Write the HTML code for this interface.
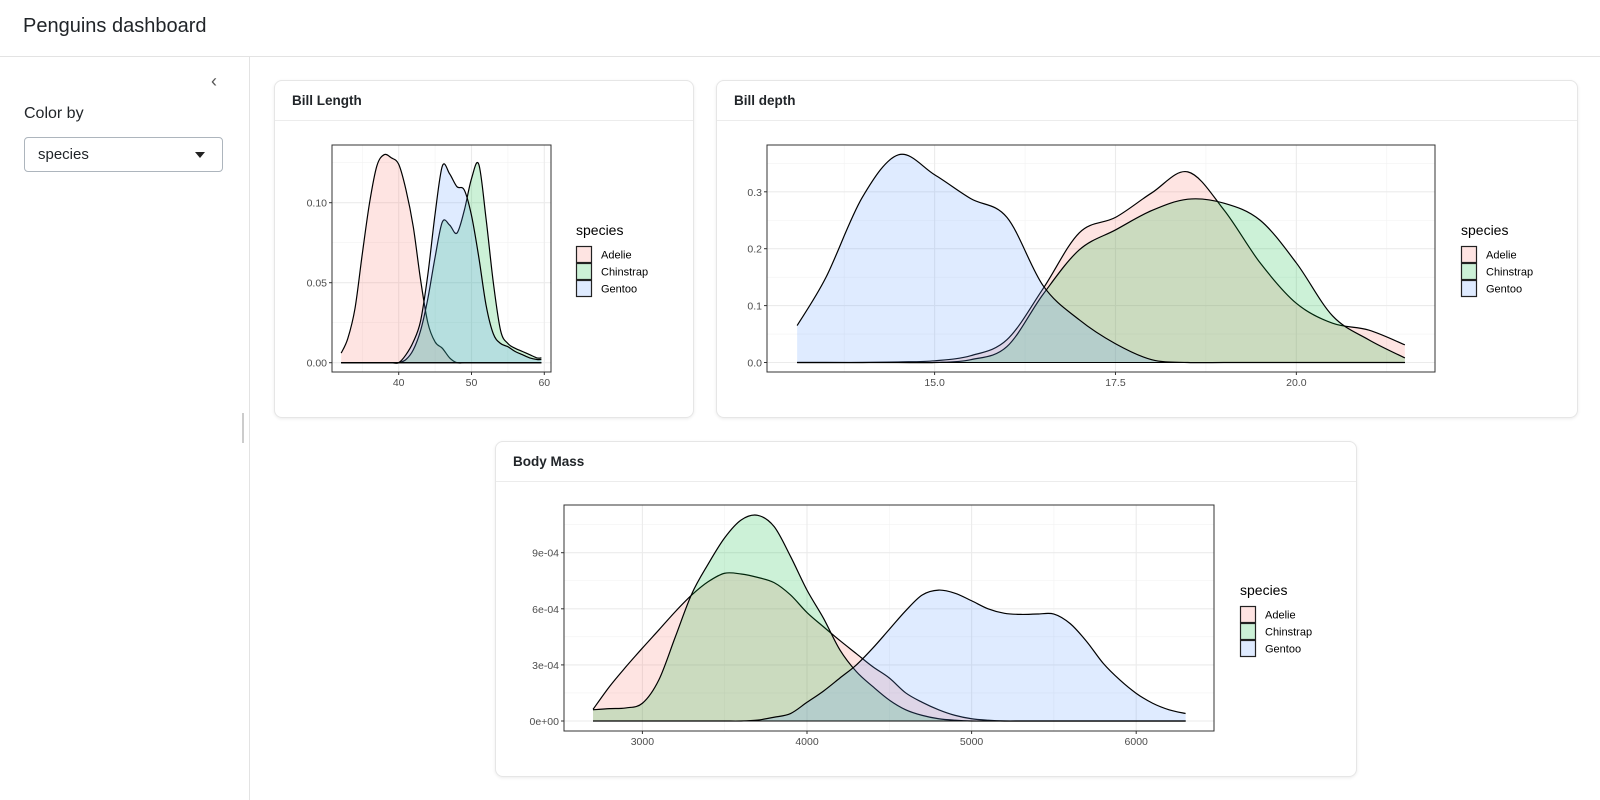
<!DOCTYPE html>
<html><head><meta charset="utf-8"><style>
body{margin:0;width:1600px;height:800px;background:#fff;font-family:"Liberation Sans","DejaVu Sans",sans-serif;color:#212529;position:relative;overflow:hidden}
.hdr{position:absolute;left:0;top:0;width:1600px;height:56px;border-bottom:1px solid #e3e3e3}
.hdr span{position:absolute;left:23px;top:15px;font-size:20px}
.side{position:absolute;left:0;top:57px;width:249px;height:743px;border-right:1px solid #e3e3e3}
.card{position:absolute;background:#fff;border:1px solid #e6e6e6;border-radius:8px;box-shadow:0 1px 3px rgba(0,0,0,.08)}
.card .ch{height:39px;border-bottom:1px solid #ececec;font-weight:bold;font-size:13.5px;padding-left:17px;line-height:39px}
svg{position:absolute;left:0;top:0}
</style></head><body>
<div class="hdr"><span>Penguins dashboard</span></div>
<div class="side">
 <div style="position:absolute;left:211px;top:14px;font-size:18px;color:#555">&#8249;</div>
 <div style="position:absolute;left:24px;top:48px;font-size:16px">Color by</div>
 <div style="position:absolute;left:24px;top:80px;width:199px;height:35px;border:1px solid #adb5bd;border-radius:4px;box-sizing:border-box">
  <span style="position:absolute;left:13px;top:8px;font-size:15px">species</span>
  <span style="position:absolute;left:170px;top:14px;width:0;height:0;border-left:5px solid transparent;border-right:5px solid transparent;border-top:6px solid #222"></span>
 </div>
</div>
<div style="position:absolute;left:242px;top:413px;width:2px;height:30px;background:#ccc"></div>
<div class="card" style="left:274px;top:80px;width:418px;height:336px"><div class="ch">Bill Length</div></div>
<div class="card" style="left:716px;top:80px;width:860px;height:336px"><div class="ch">Bill depth</div></div>
<div class="card" style="left:495px;top:441px;width:860px;height:334px"><div class="ch">Body Mass</div></div>
<svg id="s" width="1600" height="800"></svg>
<script>
const species = ["Adelie","Chinstrap","Gentoo"];
const colors = ["#F8766D","#00BA38","#619CFF"];
// Bill length
const lenX = [32.1,33,34,35,36,37,38,39,40,41,42,43,44,45,46,47,48,49,50,51,52,53,54,55,56,57,58,59,59.6];
const lenAdelie = [.006,.015,.034,.068,.1,.123,.13,.128,.124,.108,.085,.052,.025,.013,.009,.003,0,0,0,0,0,0,0,0,0,0,0,0,0];
const lenChinstrap = [0,0,0,0,0,0,0,0,0,.002,.008,.02,.04,.066,.088,.086,.081,.095,.115,.124,.09,.05,.02,.012,.009,.007,.005,.003,.003];
const lenGentoo = [0,0,0,0,0,0,0,0,0,.005,.013,.026,.055,.093,.123,.118,.11,.108,.092,.066,.036,.018,.012,.01,.007,.005,.003,.002,.002];
const lenXTicks = [40,50,60], lenYTicks = [0,0.05,0.10], lenYLabels = ["0.00","0.05","0.10"];
// Bill depth
const depX = [13.1,13.5,14,14.5,15,15.5,16,16.5,17,17.5,18,18.5,19,19.5,20,20.5,21,21.5];
const depAdelie = [0,0,0,.001,.003,.012,.04,.13,.228,.255,.298,.335,.268,.175,.104,.069,.057,.031];
const depChinstrap = [0,0,0,0,0,.005,.028,.12,.198,.233,.267,.287,.28,.25,.175,.082,.04,.008];
const depGentoo = [.065,.15,.29,.365,.33,.288,.255,.135,.075,.033,.005,0,0,0,0,0,0,0];
const depXTicks = [15,17.5,20], depXLabels = ["15.0","17.5","20.0"], depYTicks = [0,0.1,0.2,0.3], depYLabels = ["0.0","0.1","0.2","0.3"];
// Body mass (densities in units of 1e-4)
const massX = [2700,2800,2900,3000,3100,3200,3300,3400,3500,3600,3700,3800,3900,4000,4100,4200,4300,4400,4500,4600,4700,4800,4900,5000,5100,5200,5300,5400,5500,5600,5700,5800,5900,6000,6100,6200,6300];
const massAdelie = [.62,1.84,2.9,3.9,4.87,5.85,6.74,7.45,7.9,7.86,7.68,7.4,6.74,5.8,5.04,4.3,3.6,2.9,2.3,1.5,1.0,.6,.3,.12,.04,0,0,0,0,0,0,0,0,0,0,0,0];
const massChinstrap = [.6,.66,.7,.95,2.2,4.5,6.8,8.4,9.8,10.75,11.0,10.4,8.8,7.0,5.5,3.8,2.64,1.84,1.12,.6,.3,.12,.04,0,0,0,0,0,0,0,0,0,0,0,0,0,0];
const massGentoo = [0,0,0,0,0,0,0,0,0,0,.05,.2,.4,1.0,1.6,2.3,3.0,3.9,4.9,5.9,6.74,7.0,6.83,6.43,6.0,5.76,5.7,5.72,5.72,5.2,4.24,3.08,2.2,1.48,.95,.6,.4];
const massXTicks = [3000,4000,5000,6000], massYTicks = [0,3,6,9], massYLabels = ["0e+00","3e-04","6e-04","9e-04"];

const NS="http://www.w3.org/2000/svg", S=document.getElementById('s');
function mk(t,a,p){const e=document.createElementNS(NS,t);for(const k in a)e.setAttribute(k,a[k]);(p||S).appendChild(e);return e;}
function smooth(pts){let d=`M${pts[0][0]},${pts[0][1]}`;for(let i=0;i<pts.length-1;i++){const p0=pts[Math.max(0,i-1)],p1=pts[i],p2=pts[i+1],p3=pts[Math.min(pts.length-1,i+2)];
 d+=` C${p1[0]+(p2[0]-p0[0])/6},${p1[1]+(p2[1]-p0[1])/6} ${p2[0]-(p3[0]-p1[0])/6},${p2[1]-(p3[1]-p1[1])/6} ${p2[0]},${p2[1]}`;}return d;}
function chart(c){
 const g=mk('g',{});
 
 
 const sx=v=>c.x0+(v-c.xa)*c.kx, sy=v=>c.y0-v*c.ky;
 // minor grid
 c.xMinor.forEach(v=>{const l=mk('line',{x1:sx(v),x2:sx(v),y1:c.top,y2:c.bot,stroke:'#f2f2f2','stroke-width':0.6},g);});
 c.yMinor.forEach(v=>{const l=mk('line',{x1:c.left,x2:c.right,y1:sy(v),y2:sy(v),stroke:'#f2f2f2','stroke-width':0.6},g);});
 c.xTicks.forEach(v=>{const l=mk('line',{x1:sx(v),x2:sx(v),y1:c.top,y2:c.bot,stroke:'#ebebeb','stroke-width':1.1},g);});
 c.yTicks.forEach(v=>{const l=mk('line',{x1:c.left,x2:c.right,y1:sy(v),y2:sy(v),stroke:'#ebebeb','stroke-width':1.1},g);});
 c.series.forEach((ys,i)=>{
  const pts=c.xs.map((x,j)=>[sx(x),sy(ys[j])]);
  const line=smooth(pts);
  const a=mk('path',{d:line+` L${pts[pts.length-1][0]},${sy(0)} L${pts[0][0]},${sy(0)} Z`,fill:colors[i],'fill-opacity':0.2,stroke:'none'},g);
  
  
  const l=mk('path',{d:line,fill:'none',stroke:'#000','stroke-width':1.2},g);
  
  
  const b=mk('line',{x1:pts[0][0],x2:pts[pts.length-1][0],y1:sy(0),y2:sy(0),stroke:'#000','stroke-width':1.1},g);
  
  
 });
 const fr=mk('rect',{x:c.left,y:c.top,width:c.right-c.left,height:c.bot-c.top,fill:'none',stroke:'#333','stroke-width':1},g);
 
 
 c.xTicks.forEach((v,i)=>{mk('line',{x1:sx(v),x2:sx(v),y1:c.bot,y2:c.bot+3,stroke:'#333'},g);
  const t=mk('text',{x:sx(v),y:c.bot+14,'text-anchor':'middle','font-size':10.5,fill:'#4d4d4d'},g);t.textContent=c.xLabels[i];
  });
 c.yTicks.forEach((v,i)=>{mk('line',{x1:c.left-3,x2:c.left,y1:sy(v),y2:sy(v),stroke:'#333'},g);
  const t=mk('text',{x:c.left-5,y:sy(v)+4,'text-anchor':'end','font-size':10.5,fill:'#4d4d4d'},g);t.textContent=c.yLabels[i];
  });
 const lt=mk('text',{x:c.lx,y:c.ly,'font-size':14,fill:'#000'},g);lt.textContent='species';
 
 species.forEach((s,i)=>{const y=c.ly+11+i*17;
  const r=mk('rect',{x:c.lx+0.5,y:y+0.5,width:15,height:16,fill:colors[i],'fill-opacity':0.2,stroke:'#222','stroke-width':1.2},g);
  
  const t=mk('text',{x:c.lx+25,y:y+12.5,'font-size':11,fill:'#000'},g);t.textContent=s;
  });
}
chart({name:'bill-length-chart',xs:lenX,series:[lenAdelie,lenChinstrap,lenGentoo],x0:398.7,xa:40,kx:7.28,y0:362.7,ky:1600,
 left:332,right:551,top:145,bot:372,xTicks:lenXTicks,xLabels:lenXTicks.map(String),xMinor:[35,45,55],yTicks:lenYTicks,yLabels:lenYLabels,yMinor:[.025,.075,.125],lx:576,ly:235});
chart({name:'bill-depth-chart',xs:depX,series:[depAdelie,depChinstrap,depGentoo],x0:934.6,xa:15,kx:72.35,y0:362.5,ky:569,
 left:767,right:1435,top:145,bot:372,xTicks:depXTicks,xLabels:depXLabels,xMinor:[13.75,16.25,18.75,21.25],yTicks:depYTicks,yLabels:depYLabels,yMinor:[.05,.15,.25,.35],lx:1461,ly:235});
chart({name:'body-mass-chart',xs:massX,series:[massAdelie,massChinstrap,massGentoo],x0:642.4,xa:3000,kx:0.1646,y0:721,ky:18.7,
 left:564,right:1214,top:505,bot:731,xTicks:massXTicks,xLabels:massXTicks.map(String),xMinor:[3500,4500,5500],yTicks:massYTicks,yLabels:massYLabels,yMinor:[1.5,4.5,7.5,10.5],lx:1240,ly:595});
</script>
</body></html>
